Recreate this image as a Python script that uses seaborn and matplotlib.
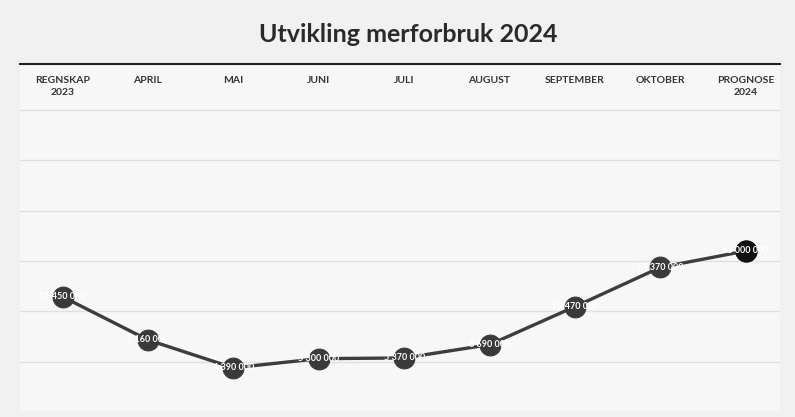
import matplotlib
matplotlib.use("Agg")
import matplotlib.pyplot as plt
import seaborn as sns
import pandas as pd

categories = ["REGNSKAP\n2023", "APRIL", "MAI", "JUNI", "JULI", "AUGUST",
              "SEPTEMBER", "OKTOBER", "PROGNOSE\n2024"]
values = [11450000, 7160000, 4390000, 5300000, 5370000, 6690000,
          10470000, 14370000, 16000000]
labels = ["11 450 000", "7 160 000", "4 390 000", "5 300 000", "5 370 000",
          "6 690 000", "10 470 000", "14 370 000", "16 000 000"]

sns.set_theme(style="white")
plt.rcParams["font.family"] = ["Lato", "DejaVu Sans"]

df = pd.DataFrame({"cat": categories, "val": values})

fig = plt.figure(figsize=(7.95, 4.17), dpi=100)
fig.patch.set_facecolor("#f1f1f1")
ax = fig.add_axes([0.025, 0.012, 0.956, 0.835])
ax.set_facecolor("#f7f7f7")

sns.lineplot(data=df, x="cat", y="val", sort=False, ax=ax, color="#3d3d3d",
             linewidth=2.4, marker="o", markersize=15,
             markerfacecolor="#3a3a3a", markeredgecolor="#3a3a3a", zorder=3)
# last point darker
ax.plot([len(categories) - 1], [values[-1]], "o", markersize=15,
        color="#111111", zorder=4)

for i, (v, lab) in enumerate(zip(values, labels)):
    ax.text(i, v, lab, ha="center", va="center", color="white",
            fontsize=6.5, fontweight="bold", zorder=5)

ax.set_xlim(-0.5, len(categories) - 0.6)
ax.set_ylim(0, 34600000)
ax.set_yticks(range(0, 35000000, 5000000))
ax.yaxis.grid(True, color="#e0e0e0", linewidth=1)
ax.set_yticklabels([])
ax.tick_params(axis="y", length=0)
ax.set_xticks(range(len(categories)))
ax.set_xticklabels([])
ax.tick_params(axis="x", length=0)
ax.set_xlabel("")
ax.set_ylabel("")

for i, c in enumerate(categories):
    ax.text(i, 0.965, c, transform=ax.get_xaxis_transform(), ha="center",
            va="top", fontsize=7.5, fontweight="bold", color="#333333",
            linespacing=1.5)

for s in ["left", "right", "bottom"]:
    ax.spines[s].set_visible(False)
ax.spines["top"].set_color("#222222")
ax.spines["top"].set_linewidth(1.5)

fig.text(0.513, 0.918, "Utvikling merforbruk 2024", ha="center", va="center",
         fontsize=18, fontweight="bold", color="#2a2a2a")

fig.savefig("out.png", dpi=100, facecolor=fig.get_facecolor())
